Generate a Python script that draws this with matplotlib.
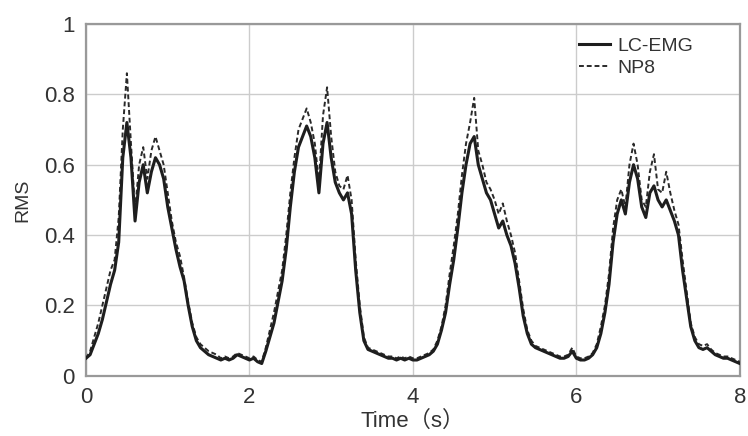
import numpy as np
import matplotlib
matplotlib.use("Agg")
import matplotlib.pyplot as plt

plt.rcParams['font.family'] = ['Liberation Sans', 'Noto Sans CJK JP', 'DejaVu Sans']

# time axis, 0.05 s step
t = np.linspace(0, 8, 161)

# LC-EMG (solid), one second per row
lc_emg = [
    0.05, 0.06, 0.09, 0.12, 0.16, 0.21, 0.26, 0.30, 0.38, 0.62, 0.72, 0.62, 0.44, 0.55, 0.60, 0.52, 0.58, 0.62, 0.60, 0.56,
    0.48, 0.42, 0.36, 0.31, 0.27, 0.20, 0.14, 0.10, 0.08, 0.07, 0.06, 0.055, 0.05, 0.045, 0.05, 0.045, 0.05, 0.06, 0.055, 0.05,
    0.045, 0.05, 0.04, 0.035, 0.07, 0.11, 0.15, 0.21, 0.27, 0.36, 0.48, 0.58, 0.65, 0.68, 0.71, 0.68, 0.62, 0.52, 0.66, 0.72,
    0.62, 0.55, 0.52, 0.50, 0.52, 0.46, 0.30, 0.18, 0.10, 0.075, 0.07, 0.065, 0.06, 0.055, 0.05, 0.05, 0.045, 0.05, 0.045, 0.05,
    0.045, 0.045, 0.05, 0.055, 0.06, 0.07, 0.09, 0.13, 0.18, 0.26, 0.33, 0.42, 0.52, 0.60, 0.66, 0.68, 0.60, 0.56, 0.52, 0.50,
    0.46, 0.42, 0.44, 0.40, 0.37, 0.32, 0.25, 0.17, 0.12, 0.09, 0.08, 0.075, 0.07, 0.065, 0.06, 0.055, 0.05, 0.05, 0.055, 0.07,
    0.05, 0.045, 0.045, 0.05, 0.06, 0.08, 0.12, 0.18, 0.26, 0.38, 0.46, 0.50, 0.46, 0.55, 0.60, 0.56, 0.48, 0.45, 0.52, 0.54,
    0.50, 0.48, 0.50, 0.47, 0.44, 0.40, 0.30, 0.22, 0.14, 0.10, 0.08, 0.075, 0.08, 0.07, 0.06, 0.055, 0.05, 0.05, 0.045, 0.04,
    0.035,
]

# NP8 (dashed)
np8 = [
    0.05, 0.07, 0.11, 0.15, 0.20, 0.25, 0.30, 0.33, 0.45, 0.70, 0.86, 0.66, 0.47, 0.60, 0.65, 0.56, 0.64, 0.68, 0.64, 0.60,
    0.52, 0.44, 0.38, 0.34, 0.28, 0.21, 0.15, 0.11, 0.09, 0.08, 0.07, 0.065, 0.06, 0.05, 0.055, 0.05, 0.055, 0.065, 0.06, 0.055,
    0.05, 0.055, 0.045, 0.04, 0.08, 0.13, 0.18, 0.24, 0.30, 0.40, 0.52, 0.62, 0.70, 0.73, 0.76, 0.72, 0.66, 0.55, 0.74, 0.82,
    0.68, 0.58, 0.54, 0.53, 0.57, 0.50, 0.33, 0.20, 0.11, 0.08, 0.075, 0.07, 0.065, 0.06, 0.055, 0.055, 0.05, 0.055, 0.05, 0.055,
    0.05, 0.05, 0.055, 0.06, 0.065, 0.075, 0.10, 0.14, 0.20, 0.29, 0.37, 0.46, 0.57, 0.66, 0.72, 0.79, 0.64, 0.60, 0.55, 0.53,
    0.50, 0.46, 0.49, 0.44, 0.40, 0.35, 0.27, 0.19, 0.13, 0.10, 0.085, 0.08, 0.075, 0.07, 0.065, 0.06, 0.055, 0.055, 0.06, 0.08,
    0.055, 0.05, 0.05, 0.055, 0.065, 0.09, 0.14, 0.20, 0.29, 0.42, 0.50, 0.53, 0.48, 0.60, 0.66, 0.60, 0.50, 0.48, 0.58, 0.63,
    0.53, 0.52, 0.58, 0.52, 0.47, 0.43, 0.33, 0.24, 0.15, 0.11, 0.09, 0.085, 0.09, 0.075, 0.065, 0.06, 0.055, 0.055, 0.05, 0.045,
    0.04,
]

x_ticks = [0, 2, 4, 6, 8]
y_ticks = [0, 0.2, 0.4, 0.6, 0.8, 1]
y_tick_labels = ['0', '0.2', '0.4', '0.6', '0.8', '1']

fig = plt.figure(figsize=(7.48, 4.36), dpi=100)
ax = fig.add_axes([0.115, 0.138, 0.874, 0.807])

ax.plot(t, np8, color='#2a2a2a', linewidth=1.4, linestyle=(0, (2.5, 1.5)), label='NP8', zorder=3)
ax.plot(t, lc_emg, color='#1e1e1e', linewidth=2.2, label='LC-EMG', zorder=4)

ax.set_xlim(0, 8)
ax.set_ylim(0, 1)
ax.set_xticks(x_ticks)
ax.set_yticks(y_ticks)
ax.set_yticklabels(y_tick_labels)
ax.tick_params(length=0, labelsize=16, colors='#333333', pad=8)
ax.grid(True, color='#cccccc', linewidth=1.0)
ax.set_axisbelow(True)
for s in ax.spines.values():
    s.set_color('#999999')
    s.set_linewidth(1.6)

ax.set_xlabel('Time（s）', fontsize=16, color='#333333', labelpad=2)
ax.set_ylabel('RMS', fontsize=14, color='#333333', labelpad=9)

h, l = ax.get_legend_handles_labels()
ax.legend([h[1], h[0]], [l[1], l[0]], loc='upper right', bbox_to_anchor=(0.95, 1.0),
          frameon=False, fontsize=14, handlelength=1.6, handletextpad=0.4,
          labelspacing=0.2, borderaxespad=0.3, labelcolor='#333333')

fig.savefig('out.png', dpi=100)
